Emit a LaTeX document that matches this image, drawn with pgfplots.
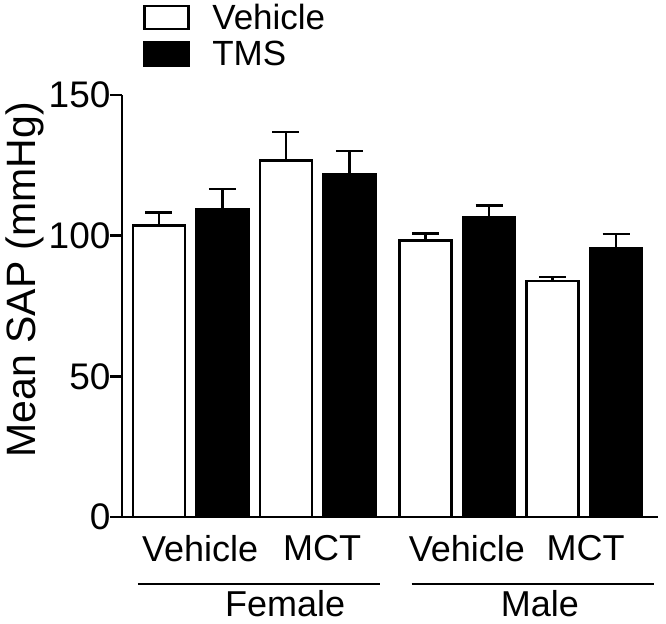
\documentclass[border=0pt]{standalone}
\usepackage{pgfplots}
\pgfplotsset{compat=1.18}
\usepackage{fontspec}
\setmainfont{Liberation Sans}
\begin{document}
\begin{tikzpicture}
\begin{axis}[
  scale only axis, width=536pt, height=422pt,
  xmin=0.42, xmax=8.86, ymin=0, ymax=150,
  clip=false,
  axis x line*=bottom, axis y line*=left,
  axis line style={line width=2.5pt, -},
  ytick={0,50,100,150},
  yticklabels={0,50,100,150},
  ytick style={line width=2.5pt, black},
  major tick length=12pt, tick align=outside,
  xtick={1.65,3.57,5.85,7.72},
  xticklabels={Vehicle,MCT,Vehicle,MCT},
  xtick style={draw=none},
  /pgf/number format/assume math mode=true,
  every y tick label/.append style={font=\fontsize{37}{44}\selectfont, xshift=4pt},
  xticklabel style={font=\fontsize{36}{42}\selectfont, yshift=-3pt},
  ylabel={Mean SAP (mmHg)},
  ylabel style={font=\fontsize{41}{48}\selectfont, at={(axis description cs:-0.181,0.562)}, anchor=center},
  ybar, bar width=0.82, bar shift=0pt,
  legend style={at={(rel axis cs:0.039,1.2204)}, anchor=north west, draw=none, fill=none,
    inner sep=0pt, font=\fontsize{35}{42}\selectfont, row sep=6pt, cells={anchor=west}},
  legend image code/.code={\draw[#1, line width=2.5pt] (0pt,-11.5pt) rectangle (44pt,11.5pt);\path[draw=none,fill=none] (44pt,0pt) -- (66pt,0pt);},
  error bars/y dir=plus, error bars/y explicit,
  error bars/error bar style={line width=2.5pt, black},
  error bars/error mark options={rotate=90, mark size=13.5pt, line width=2.5pt, black},
]
\addplot[draw=black, fill=white, line width=2.5pt] coordinates {
  (1,103.6) +- (0,4.7)
  (3,126.7) +- (0,10.1)
  (5.2,98.2) +- (0,2.5)
  (7.2,83.8) +- (0,1.5)
};
\addplot[draw=black, fill=black, line width=2.5pt] coordinates {
  (2,109.5) +- (0,7.0)
  (4,122.0) +- (0,8.1)
  (6.2,106.5) +- (0,4.2)
  (8.2,95.5) +- (0,5.1)
};
\legend{Vehicle,TMS}
\draw[line width=2.5pt] (axis cs:0.67,-23.8) -- (axis cs:4.48,-23.8);
\draw[line width=2.5pt] (axis cs:4.98,-23.8) -- (axis cs:8.80,-23.8);
\node[anchor=base, font=\fontsize{36}{42}\selectfont, inner sep=0pt] at (axis cs:2.99,-35.5) {Female};
\node[anchor=base, font=\fontsize{36}{42}\selectfont, inner sep=0pt] at (axis cs:7.0,-35.5) {Male};
\coordinate (BL) at (rel axis cs:-0.2276,-0.2512);
\coordinate (TR) at (rel axis cs:1.0149,1.2251);
\end{axis}
\pgfresetboundingbox
\useasboundingbox (BL) rectangle (TR);
\end{tikzpicture}
\end{document}
